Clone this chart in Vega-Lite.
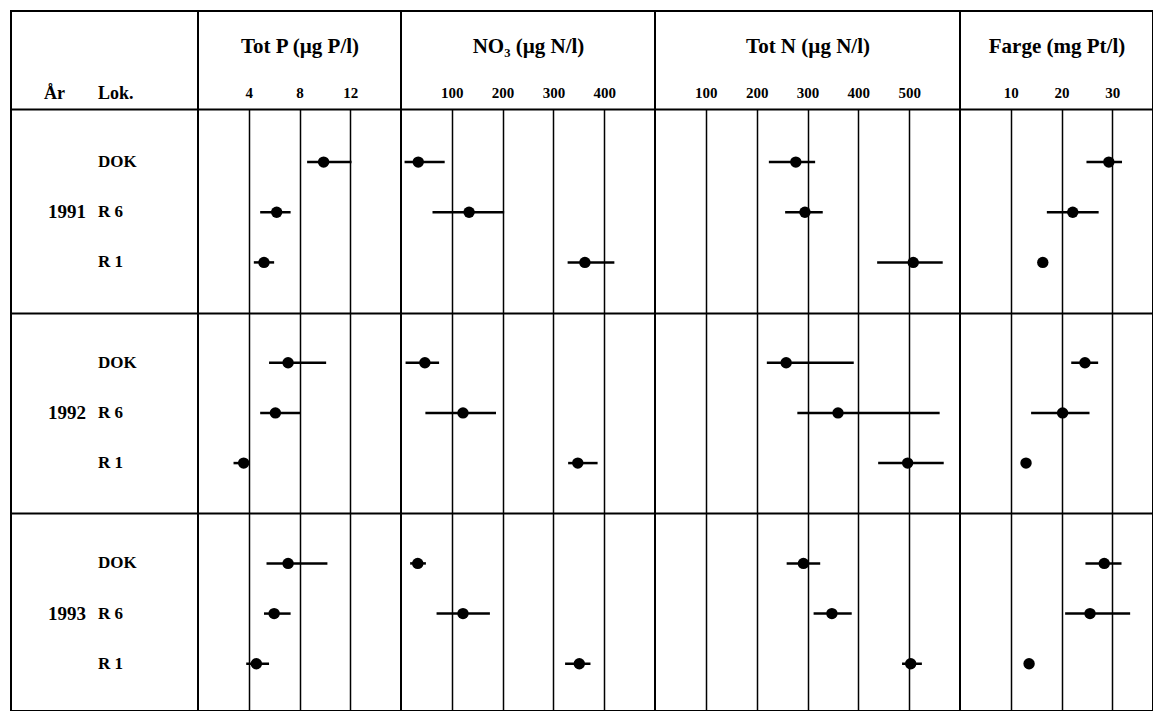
{
  "$schema": "https://vega.github.io/schema/vega-lite/v6.json",
  "padding": {"left": 10, "top": 10, "right": 0, "bottom": 0},
  "background": "white",
  "spacing": 0,
  "bounds": "flush",
  "datasets": {
    "verdier": [
      {"år": "1991", "lok": "DOK", "rad": "1991 DOK", "param": "TotP", "mid": 9.9, "lo": 8.6, "hi": 12.1},
      {"år": "1991", "lok": "R 6", "rad": "1991 R 6", "param": "TotP", "mid": 6.2, "lo": 4.9, "hi": 7.3},
      {"år": "1991", "lok": "R 1", "rad": "1991 R 1", "param": "TotP", "mid": 5.2, "lo": 4.4, "hi": 6.0},
      {"år": "1992", "lok": "DOK", "rad": "1992 DOK", "param": "TotP", "mid": 7.1, "lo": 5.6, "hi": 10.1},
      {"år": "1992", "lok": "R 6", "rad": "1992 R 6", "param": "TotP", "mid": 6.1, "lo": 4.9, "hi": 8.1},
      {"år": "1992", "lok": "R 1", "rad": "1992 R 1", "param": "TotP", "mid": 3.6, "lo": 2.8, "hi": 4.0},
      {"år": "1993", "lok": "DOK", "rad": "1993 DOK", "param": "TotP", "mid": 7.1, "lo": 5.4, "hi": 10.2},
      {"år": "1993", "lok": "R 6", "rad": "1993 R 6", "param": "TotP", "mid": 6.0, "lo": 5.2, "hi": 7.3},
      {"år": "1993", "lok": "R 1", "rad": "1993 R 1", "param": "TotP", "mid": 4.6, "lo": 3.8, "hi": 5.6},
      {"år": "1991", "lok": "DOK", "rad": "1991 DOK", "param": "NO3", "mid": 34, "lo": 7, "hi": 86},
      {"år": "1991", "lok": "R 6", "rad": "1991 R 6", "param": "NO3", "mid": 134, "lo": 62, "hi": 203},
      {"år": "1991", "lok": "R 1", "rad": "1991 R 1", "param": "NO3", "mid": 362, "lo": 328, "hi": 420},
      {"år": "1992", "lok": "DOK", "rad": "1992 DOK", "param": "NO3", "mid": 47, "lo": 9, "hi": 75},
      {"år": "1992", "lok": "R 6", "rad": "1992 R 6", "param": "NO3", "mid": 122, "lo": 48, "hi": 187},
      {"år": "1992", "lok": "R 1", "rad": "1992 R 1", "param": "NO3", "mid": 348, "lo": 329, "hi": 387},
      {"år": "1993", "lok": "DOK", "rad": "1993 DOK", "param": "NO3", "mid": 33, "lo": 18, "hi": 49},
      {"år": "1993", "lok": "R 6", "rad": "1993 R 6", "param": "NO3", "mid": 122, "lo": 70, "hi": 175},
      {"år": "1993", "lok": "R 1", "rad": "1993 R 1", "param": "NO3", "mid": 351, "lo": 323, "hi": 373},
      {"år": "1991", "lok": "DOK", "rad": "1991 DOK", "param": "TotN", "mid": 277, "lo": 224, "hi": 315},
      {"år": "1991", "lok": "R 6", "rad": "1991 R 6", "param": "TotN", "mid": 295, "lo": 256, "hi": 330},
      {"år": "1991", "lok": "R 1", "rad": "1991 R 1", "param": "TotN", "mid": 508, "lo": 437, "hi": 566},
      {"år": "1992", "lok": "DOK", "rad": "1992 DOK", "param": "TotN", "mid": 258, "lo": 220, "hi": 391},
      {"år": "1992", "lok": "R 6", "rad": "1992 R 6", "param": "TotN", "mid": 360, "lo": 280, "hi": 560},
      {"år": "1992", "lok": "R 1", "rad": "1992 R 1", "param": "TotN", "mid": 497, "lo": 439, "hi": 568},
      {"år": "1993", "lok": "DOK", "rad": "1993 DOK", "param": "TotN", "mid": 292, "lo": 259, "hi": 325},
      {"år": "1993", "lok": "R 6", "rad": "1993 R 6", "param": "TotN", "mid": 348, "lo": 312, "hi": 387},
      {"år": "1993", "lok": "R 1", "rad": "1993 R 1", "param": "TotN", "mid": 503, "lo": 486, "hi": 525},
      {"år": "1991", "lok": "DOK", "rad": "1991 DOK", "param": "Farge", "mid": 29.3, "lo": 24.9, "hi": 31.9},
      {"år": "1991", "lok": "R 6", "rad": "1991 R 6", "param": "Farge", "mid": 22.2, "lo": 17.1, "hi": 27.3},
      {"år": "1991", "lok": "R 1", "rad": "1991 R 1", "param": "Farge", "mid": 16.3, "lo": null, "hi": null},
      {"år": "1992", "lok": "DOK", "rad": "1992 DOK", "param": "Farge", "mid": 24.6, "lo": 21.9, "hi": 27.2},
      {"år": "1992", "lok": "R 6", "rad": "1992 R 6", "param": "Farge", "mid": 20.2, "lo": 14.0, "hi": 25.5},
      {"år": "1992", "lok": "R 1", "rad": "1992 R 1", "param": "Farge", "mid": 13.0, "lo": null, "hi": null},
      {"år": "1993", "lok": "DOK", "rad": "1993 DOK", "param": "Farge", "mid": 28.4, "lo": 24.7, "hi": 31.8},
      {"år": "1993", "lok": "R 6", "rad": "1993 R 6", "param": "Farge", "mid": 25.6, "lo": 20.7, "hi": 33.5},
      {"år": "1993", "lok": "R 1", "rad": "1993 R 1", "param": "Farge", "mid": 13.6, "lo": null, "hi": null}
    ]
  },
  "hconcat": [
    {
      "width": 187, "height": 700,
      "data": {"name": "verdier"},
      "transform": [{"filter": "datum.param === 'TotP'"}],
      "encoding": {
        "y": {"field": "rad", "type": "nominal",
          "scale": {"type": "point", "domain": ["1991 DOK", "1991 R 6", "1991 R 1", "sep1", "1992 DOK", "1992 R 6", "1992 R 1", "sep2", "1993 DOK", "1993 R 6", "1993 R 1"], "range": [98, 700], "padding": 1.02, "align": 0.529},
          "axis": {"values": ["sep1", "sep2"], "grid": true, "gridWidth": 2, "labels": false, "ticks": false, "domain": false, "title": null}}
      },
      "layer": [
        {
          "mark": {"type": "text", "align": "left", "baseline": "middle", "fontSize": 17, "fontWeight": "bold", "font": "Liberation Serif", "color": "black"},
          "encoding": {
            "x": {"datum": "Lok.", "type": "nominal", "scale": {"type": "band", "domain": ["År", "Lok."], "paddingInner": 0.54, "paddingOuter": 1, "align": 0.19},
              "axis": {"orient": "top", "offset": -98, "grid": false, "labelAlign": "left", "labelAngle": 0, "labelFontSize": 18, "labelPadding": 7, "domainWidth": 2, "title": null}},
            "text": {"field": "lok"}
          }
        },
        {
          "transform": [{"filter": "datum.lok === 'R 6'"}],
          "mark": {"type": "text", "align": "left", "baseline": "middle", "dx": 4, "fontSize": 19, "fontWeight": "bold", "font": "Liberation Serif", "color": "black"},
          "encoding": {
            "x": {"datum": "År", "type": "nominal",
              "axis": {"orient": "top", "offset": -98, "grid": false, "labelAlign": "left", "labelAngle": 0, "labelFontSize": 18, "labelPadding": 7, "domainWidth": 2, "title": null}},
            "text": {"field": "år"}
          }
        }
      ]
    },
    {
      "width": 203, "height": 700,
      "data": {"name": "verdier"},
      "transform": [{"filter": "datum.param === 'TotP'"}],
      "encoding": {
        "y": {"field": "rad", "type": "nominal",
          "scale": {"type": "point", "domain": ["1991 DOK", "1991 R 6", "1991 R 1", "sep1", "1992 DOK", "1992 R 6", "1992 R 1", "sep2", "1993 DOK", "1993 R 6", "1993 R 1"], "range": [98, 700], "padding": 1.02, "align": 0.529},
          "axis": {"values": ["sep1", "sep2"], "grid": true, "gridWidth": 2, "labels": false, "ticks": false, "domain": false, "title": null}}
      },
      "layer": [
        {
          "transform": [{"filter": "isValid(datum.lo)"}],
          "mark": {"type": "rule", "strokeWidth": 2.5, "color": "black"},
          "encoding": {
            "x": {"field": "lo", "type": "quantitative", "scale": {"domain": [0, 16], "nice": false, "zero": false},
              "axis": {"orient": "top", "offset": -98, "values": [4, 8, 12], "grid": true, "gridWidth": 1.5, "domainWidth": 2, "labelFontSize": 15, "labelPadding": 9, "labelFlush": false, "title": "Tot P (µg P/l)", "titleFontSize": 21, "titlePadding": 29}},
            "x2": {"field": "hi"}
          }
        },
        {
          "mark": {"type": "point", "filled": true, "size": 130, "color": "black", "opacity": 1},
          "encoding": {
            "x": {"field": "mid", "type": "quantitative",
              "axis": {"orient": "top", "offset": -98, "values": [4, 8, 12], "grid": true, "gridWidth": 1.5, "domainWidth": 2, "labelFontSize": 15, "labelPadding": 9, "labelFlush": false, "title": "Tot P (µg P/l)", "titleFontSize": 21, "titlePadding": 29}}
          }
        }
      ]
    },
    {
      "width": 254, "height": 700,
      "data": {"name": "verdier"},
      "transform": [{"filter": "datum.param === 'NO3'"}],
      "encoding": {
        "y": {"field": "rad", "type": "nominal",
          "scale": {"type": "point", "domain": ["1991 DOK", "1991 R 6", "1991 R 1", "sep1", "1992 DOK", "1992 R 6", "1992 R 1", "sep2", "1993 DOK", "1993 R 6", "1993 R 1"], "range": [98, 700], "padding": 1.02, "align": 0.529},
          "axis": {"values": ["sep1", "sep2"], "grid": true, "gridWidth": 2, "labels": false, "ticks": false, "domain": false, "title": null}}
      },
      "layer": [
        {
          "transform": [{"filter": "isValid(datum.lo)"}],
          "mark": {"type": "rule", "strokeWidth": 2.5, "color": "black"},
          "encoding": {
            "x": {"field": "lo", "type": "quantitative", "scale": {"domain": [0, 500], "nice": false, "zero": false},
              "axis": {"orient": "top", "offset": -98, "values": [100, 200, 300, 400], "grid": true, "gridWidth": 1.5, "domainWidth": 2, "labelFontSize": 15, "labelPadding": 9, "labelFlush": false, "title": "NO₃ (µg N/l)", "titleFontSize": 21, "titlePadding": 29}},
            "x2": {"field": "hi"}
          }
        },
        {
          "mark": {"type": "point", "filled": true, "size": 130, "color": "black", "opacity": 1},
          "encoding": {
            "x": {"field": "mid", "type": "quantitative",
              "axis": {"orient": "top", "offset": -98, "values": [100, 200, 300, 400], "grid": true, "gridWidth": 1.5, "domainWidth": 2, "labelFontSize": 15, "labelPadding": 9, "labelFlush": false, "title": "NO₃ (µg N/l)", "titleFontSize": 21, "titlePadding": 29}}
          }
        }
      ]
    },
    {
      "width": 305, "height": 700,
      "data": {"name": "verdier"},
      "transform": [{"filter": "datum.param === 'TotN'"}],
      "encoding": {
        "y": {"field": "rad", "type": "nominal",
          "scale": {"type": "point", "domain": ["1991 DOK", "1991 R 6", "1991 R 1", "sep1", "1992 DOK", "1992 R 6", "1992 R 1", "sep2", "1993 DOK", "1993 R 6", "1993 R 1"], "range": [98, 700], "padding": 1.02, "align": 0.529},
          "axis": {"values": ["sep1", "sep2"], "grid": true, "gridWidth": 2, "labels": false, "ticks": false, "domain": false, "title": null}}
      },
      "layer": [
        {
          "transform": [{"filter": "isValid(datum.lo)"}],
          "mark": {"type": "rule", "strokeWidth": 2.5, "color": "black"},
          "encoding": {
            "x": {"field": "lo", "type": "quantitative", "scale": {"domain": [0, 600], "nice": false, "zero": false},
              "axis": {"orient": "top", "offset": -98, "values": [100, 200, 300, 400, 500], "grid": true, "gridWidth": 1.5, "domainWidth": 2, "labelFontSize": 15, "labelPadding": 9, "labelFlush": false, "title": "Tot N (µg N/l)", "titleFontSize": 21, "titlePadding": 29}},
            "x2": {"field": "hi"}
          }
        },
        {
          "mark": {"type": "point", "filled": true, "size": 130, "color": "black", "opacity": 1},
          "encoding": {
            "x": {"field": "mid", "type": "quantitative",
              "axis": {"orient": "top", "offset": -98, "values": [100, 200, 300, 400, 500], "grid": true, "gridWidth": 1.5, "domainWidth": 2, "labelFontSize": 15, "labelPadding": 9, "labelFlush": false, "title": "Tot N (µg N/l)", "titleFontSize": 21, "titlePadding": 29}}
          }
        }
      ]
    },
    {
      "width": 193, "height": 700,
      "data": {"name": "verdier"},
      "transform": [{"filter": "datum.param === 'Farge'"}],
      "encoding": {
        "y": {"field": "rad", "type": "nominal",
          "scale": {"type": "point", "domain": ["1991 DOK", "1991 R 6", "1991 R 1", "sep1", "1992 DOK", "1992 R 6", "1992 R 1", "sep2", "1993 DOK", "1993 R 6", "1993 R 1"], "range": [98, 700], "padding": 1.02, "align": 0.529},
          "axis": {"values": ["sep1", "sep2"], "grid": true, "gridWidth": 2, "labels": false, "ticks": false, "domain": false, "title": null}}
      },
      "layer": [
        {
          "transform": [{"filter": "isValid(datum.lo)"}],
          "mark": {"type": "rule", "strokeWidth": 2.5, "color": "black"},
          "encoding": {
            "x": {"field": "lo", "type": "quantitative", "scale": {"domain": [0, 38], "nice": false, "zero": false},
              "axis": {"orient": "top", "offset": -98, "values": [10, 20, 30], "grid": true, "gridWidth": 1.5, "domainWidth": 2, "labelFontSize": 15, "labelPadding": 9, "labelFlush": false, "title": "Farge (mg Pt/l)", "titleFontSize": 21, "titlePadding": 29}},
            "x2": {"field": "hi"}
          }
        },
        {
          "mark": {"type": "point", "filled": true, "size": 130, "color": "black", "opacity": 1},
          "encoding": {
            "x": {"field": "mid", "type": "quantitative",
              "axis": {"orient": "top", "offset": -98, "values": [10, 20, 30], "grid": true, "gridWidth": 1.5, "domainWidth": 2, "labelFontSize": 15, "labelPadding": 9, "labelFlush": false, "title": "Farge (mg Pt/l)", "titleFontSize": 21, "titlePadding": 29}}
          }
        }
      ]
    }
  ],
  "config": {
    "view": {"stroke": "black", "strokeWidth": 2},
    "font": "Liberation Serif",
    "axis": {"labelFont": "Liberation Serif", "titleFont": "Liberation Serif", "labelFontWeight": "bold", "titleFontWeight": "bold", "labelColor": "black", "titleColor": "black", "domainColor": "black", "gridColor": "black", "gridOpacity": 1, "ticks": false}
  }
}
